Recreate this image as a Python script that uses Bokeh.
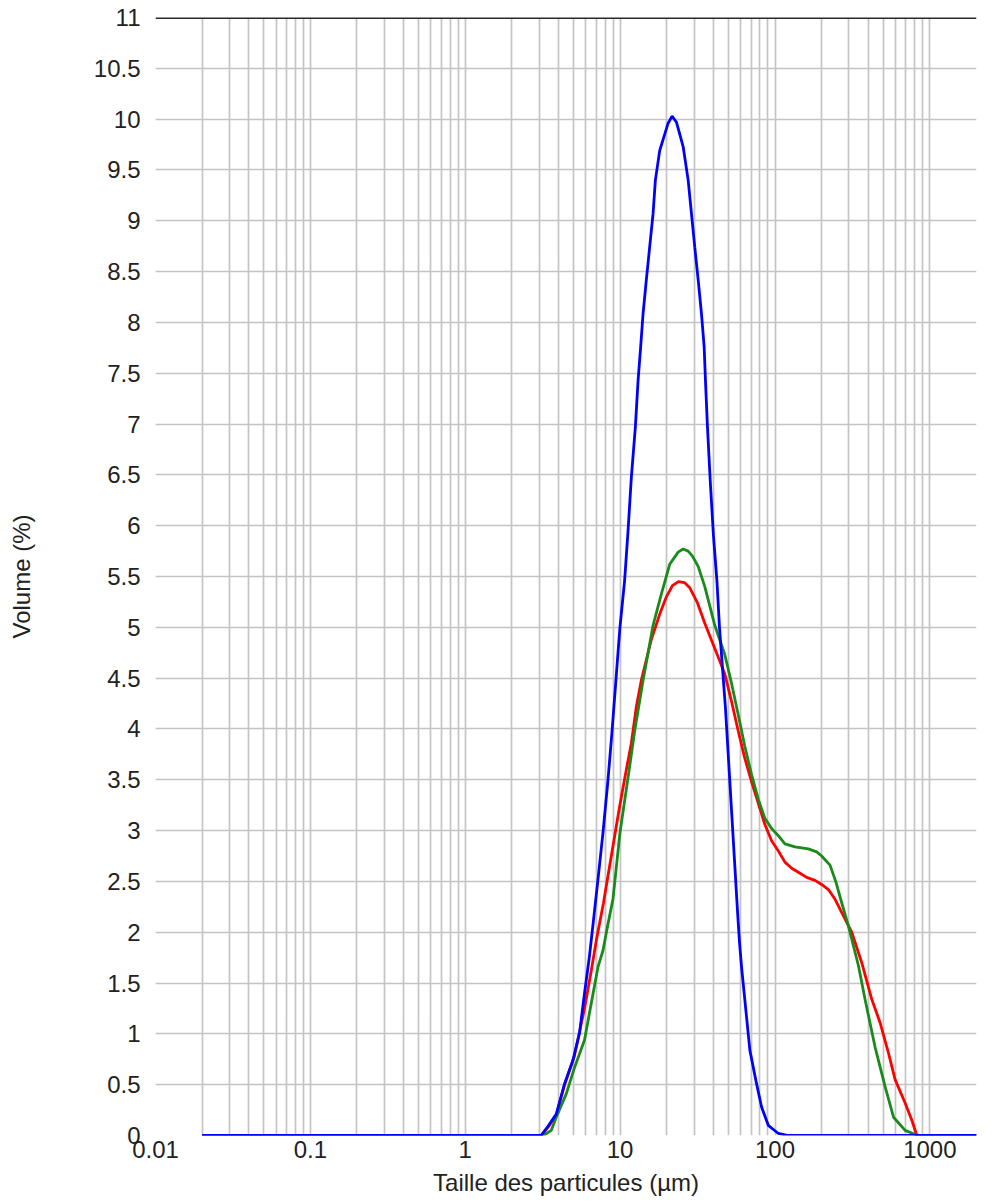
from bokeh.plotting import figure
from bokeh.models import FixedTicker, CustomJSTickFormatter, Span, Range1d
from bokeh.embed import file_html
from bokeh.resources import INLINE

# ---- data ----
x_ticks = [0.01, 0.1, 1, 10, 100, 1000]
x_tick_labels = ["0.01", "0.1", "1", "10", "100", "1000"]
y_ticks = [0, 0.5, 1, 1.5, 2, 2.5, 3, 3.5, 4, 4.5, 5, 5.5, 6, 6.5, 7, 7.5, 8, 8.5, 9, 9.5, 10, 10.5, 11]
y_tick_labels = ["0", "0.5", "1", "1.5", "2", "2.5", "3", "3.5", "4", "4.5", "5", "5.5", "6", "6.5",
                 "7", "7.5", "8", "8.5", "9", "9.5", "10", "10.5", "11"]

blue_size = [0.02, 3.09, 3.42, 3.87, 4.38, 4.96, 5.47, 5.89, 6.32, 6.71, 7.23, 7.75, 8.35, 8.86, 9.45,
             9.96, 10.69, 11.25, 11.81, 12.54, 13.06, 13.57, 14.07, 14.77, 15.51, 16.32, 16.89, 18.01,
             20.41, 21.66, 23.10, 25.52, 27.50, 28.88, 30.34, 31.90, 33.50, 34.88, 35.56, 36.64, 38.31,
             40.06, 42.2, 43.8, 45.8, 47.9, 50.1, 52.4, 54.8, 57.3, 59.0, 60.8, 63.9, 68.8, 76.0, 81.9,
             90.5, 105.1, 121.9, 2000]
blue_vol = [0, 0, 0.09, 0.21, 0.51, 0.74, 1.01, 1.4, 1.75, 2.1, 2.55, 2.98, 3.5, 3.97, 4.53,
            4.99, 5.46, 5.95, 6.47, 6.97, 7.43, 7.76, 8.09, 8.42, 8.74, 9.07, 9.4, 9.69,
            9.96, 10.03, 9.97, 9.73, 9.4, 9.07, 8.74, 8.42, 8.09, 7.76, 7.43, 6.97, 6.4,
            5.9, 5.45, 5.0, 4.6, 4.2, 3.7, 3.2, 2.7, 2.2, 1.9, 1.66, 1.33, 0.84, 0.51, 0.28,
            0.1, 0.02, 0, 0]

red_size = [0.02, 3.09, 3.42, 3.87, 4.38, 5.06, 5.89, 6.51, 7.02, 7.79, 8.77, 9.93, 10.97, 11.81,
            12.73, 13.71, 15.91, 17.93, 19.89, 21.76, 23.79, 26.02, 28.14, 31.58, 35.21, 40.68, 47.42,
            52.4, 57.88, 63.59, 70.59, 78.32, 86.04, 95.06, 105.1, 115.9, 128.1, 141.5, 160.1, 181.2,
            200.1, 221.2, 242.9, 276.5, 313.0, 363.2, 421.4, 477.0, 540.5, 596.4, 692.1, 764.8, 823.9,
            2000]
red_vol = [0, 0, 0.08, 0.2, 0.5, 0.78, 1.25, 1.62, 1.92, 2.28, 2.75, 3.24, 3.6, 3.86,
           4.22, 4.48, 4.88, 5.12, 5.3, 5.41, 5.45, 5.44, 5.39, 5.24, 5.04, 4.8, 4.54,
           4.27, 3.98, 3.72, 3.48, 3.26, 3.06, 2.9, 2.8, 2.69, 2.63, 2.59, 2.54, 2.51,
           2.47, 2.42, 2.33, 2.16, 2.0, 1.7, 1.34, 1.11, 0.81, 0.55, 0.32, 0.15, 0,
           0]

green_size = [0.02, 3.2, 3.59, 3.87, 4.49, 5.08, 5.89, 6.51, 7.20, 7.75, 8.27, 9.00, 9.96, 11.52,
              12.41, 14.07, 16.32, 18.47, 20.90, 23.69, 25.52, 27.50, 29.31, 31.90, 35.21, 40.86,
              47.42, 52.4, 57.88, 63.59, 70.59, 78.32, 86.04, 95.06, 105.1, 115.9, 134.5, 164.2,
              185.8, 200.1, 226.5, 246.6, 269.6, 298.0, 345.8, 381.4, 442.7, 513.9, 582.5, 692.1,
              803.3, 865.4, 2000]
green_vol = [0, 0, 0.05, 0.18, 0.41, 0.67, 0.94, 1.3, 1.66, 1.82, 2.05, 2.33, 2.97, 3.63,
             3.98, 4.48, 5.02, 5.33, 5.62, 5.74, 5.77, 5.75, 5.70, 5.6, 5.4, 5.02,
             4.73, 4.45, 4.14, 3.84, 3.55, 3.3, 3.12, 3.02, 2.95, 2.87, 2.84, 2.82,
             2.79, 2.75, 2.66, 2.5, 2.29, 2.06, 1.67, 1.34, 0.87, 0.48, 0.18, 0.05,
             0.01, 0, 0]

x_label = "Taille des particules (µm)"
y_label = "Volume (%)"

# ---- figure ----
FONT = "Liberation Sans"
TXT = "#222222"
GRID = "#c4c4c4"

p = figure(width=994, height=1203, x_axis_type="log",
           x_range=Range1d(0.01, 2000), y_range=Range1d(0, 11),
           output_backend="svg", toolbar_location=None,
           min_border_left=155, min_border_right=18, min_border_top=17, min_border_bottom=68)
p.outline_line_color = None
p.background_fill_color = "white"

minor = [m * d for d in [0.01, 0.1, 1, 10, 100] for m in range(2, 10)] + [2000]
xticker = FixedTicker(ticks=x_ticks, minor_ticks=minor)
yticker = FixedTicker(ticks=y_ticks)

fmt_code = """
for (let i = 0; i < tvals.length; i++) {
  if (Math.abs(tvals[i] - tick) <= 1e-9 * Math.max(1, Math.abs(tvals[i]))) return tlabels[i];
}
return '';
"""
p.xaxis.ticker = xticker
p.xaxis.formatter = CustomJSTickFormatter(args=dict(tvals=x_ticks, tlabels=x_tick_labels), code=fmt_code)
p.yaxis.ticker = yticker
p.yaxis.formatter = CustomJSTickFormatter(args=dict(tvals=y_ticks, tlabels=y_tick_labels), code=fmt_code)

p.xgrid.ticker = xticker
p.ygrid.ticker = yticker
for g in (p.xgrid, p.ygrid):
    g.grid_line_color = GRID
    g.grid_line_width = 1.7
p.xgrid.minor_grid_line_color = GRID
p.xgrid.minor_grid_line_width = 1.7

for ax in (p.xaxis, p.yaxis):
    ax.axis_line_color = None
    ax.major_tick_line_color = None
    ax.minor_tick_line_color = None
    ax.major_tick_out = 0
    ax.major_tick_in = 0
    ax.minor_tick_out = 0
    ax.major_label_text_font = FONT
    ax.major_label_text_font_size = "24px"
    ax.major_label_text_color = TXT
    ax.axis_label_text_font = FONT
    ax.axis_label_text_font_size = "24px"
    ax.axis_label_text_font_style = "normal"
    ax.axis_label_text_color = TXT

p.xaxis.axis_label = x_label
p.yaxis.axis_label = y_label
p.xaxis.major_label_standoff = 5
p.xaxis.axis_label_standoff = 8
p.yaxis.major_label_standoff = 15
p.yaxis.axis_label_standoff = 56

top = Span(location=11, dimension="width", line_color="#2b2b2b", line_width=3)
p.add_layout(top)

p.line(red_size, red_vol, line_color="#ff0000", line_width=2.8)
p.line(green_size, green_vol, line_color="#1a8a1a", line_width=2.8)
p.line(blue_size, blue_vol, line_color="#0000ff", line_width=2.8)

open("out.html", "w").write(file_html(p, INLINE))
